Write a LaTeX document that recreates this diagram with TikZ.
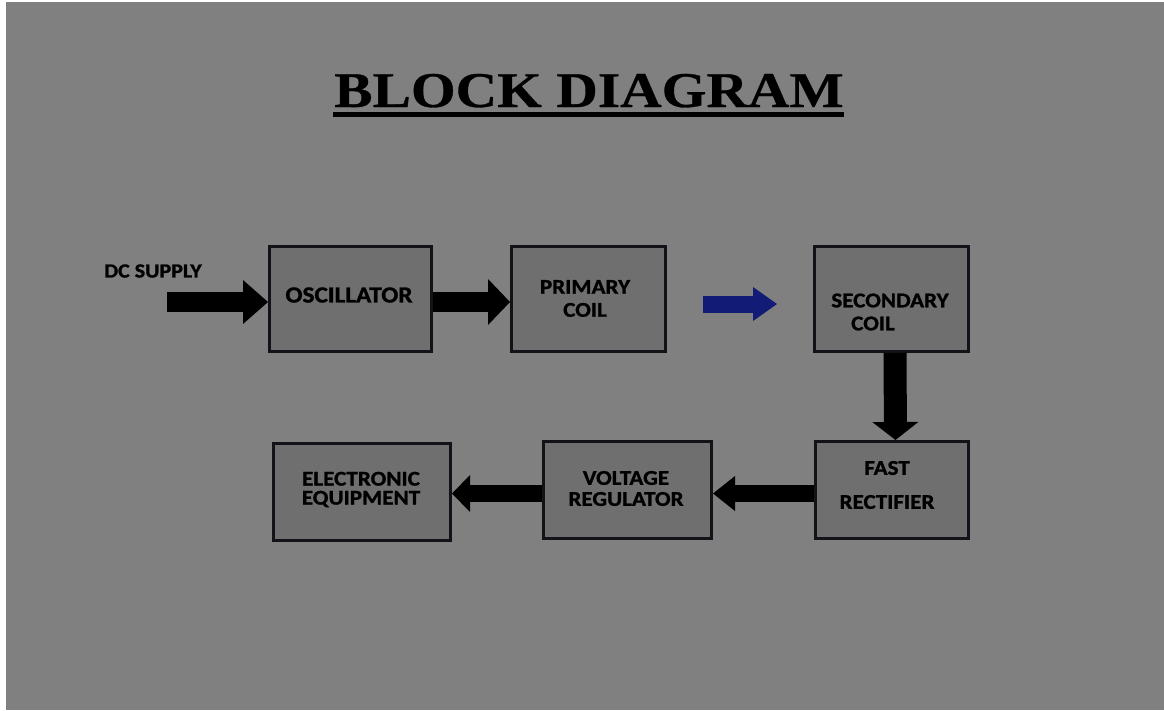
\documentclass[tikz,border=0pt]{standalone}
\usepackage{fontspec}
\setmainfont{Liberation Serif}
\newfontfamily\boxfont[FakeStretch=1.1,FakeBold=1.2]{Carlito Bold}
\newfontfamily\titlefont[FakeStretch=1.15,FakeBold=0.6]{Liberation Serif Bold}
\usetikzlibrary{arrows.meta}
\definecolor{bggray}{HTML}{808080}
\definecolor{boxgray}{HTML}{6F6F6F}
\definecolor{boxline}{HTML}{121218}
\definecolor{darkblue}{RGB}{18,28,118}
\tikzset{
  blk/.style={draw=boxline, line width=3pt, fill=boxgray, inner sep=0pt},
  lbl/.style={text=black, align=center, inner sep=0pt, font={\boxfont\fontsize{21}{23}\selectfont}},
  blockarrow/.style={draw=black, line width=#1},
}
\begin{document}
\begin{tikzpicture}[x=1pt,y=-1pt]
\fill[white] (0,0) rectangle (1164,710);
\fill[bggray] (6,2) rectangle (1164,710);
\useasboundingbox (0,0) rectangle (1164,710);

% title
\node[inner sep=0pt, anchor=base, font={\titlefont\fontsize{50}{50}\selectfont}] (title) at (589,107) {BLOCK DIAGRAM};
\draw[line width=4.5pt, black] (title.base west) ++(-1,7.5) coordinate (ul1) -- (title.base east |- ul1) coordinate (ul2);

% boxes
\node[blk, minimum width=162pt, minimum height=105pt] (osc) at (350.5,299) {};
\node[blk, minimum width=154pt, minimum height=105pt] (pri) at (588.5,299) {};
\node[blk, minimum width=154pt, minimum height=105pt] (sec) at (891.5,299) {};
\node[blk, minimum width=153pt, minimum height=97pt] (fast) at (892,490) {};
\node[blk, minimum width=168pt, minimum height=97pt] (vreg) at (627.5,490) {};
\node[blk, minimum width=177pt, minimum height=97pt] (elec) at (362,492) {};

% labels
\node[lbl, font={\boxfont\fontsize{20}{22}\selectfont}] (dclbl) at (153,271) {DC SUPPLY};
\node[lbl, font={\boxfont\fontsize{23}{25}\selectfont}] (osclbl) at (349,295) {OSCILLATOR};
\node[lbl] (prilbl) at (585,298.5) {PRIMARY\\COIL};
\node[lbl] (seclbl) at (890,312) {SECONDARY\\\hspace*{-34pt}COIL};
\node[lbl] (fastlbl) at (887,485) {FAST\\[11pt]RECTIFIER};
\node[lbl] (vreglbl) at (626,488.5) {VOLTAGE\\[-2pt]REGULATOR};
\node[lbl] (eleclbl) at (361,489.5) {ELECTRONIC\\[-4pt]EQUIPMENT};

% arrows
\coordinate (dcstart) at (167,302);
\draw[blockarrow=20pt, -{Triangle[length=25pt,width=44pt,line width=0pt]}] (dcstart) -- (dcstart -| osc.west);
\draw[blockarrow=20pt, -{Triangle[length=22pt,width=46pt,line width=0pt]}] ([yshift=-3pt]osc.east) -- ([yshift=-3pt]pri.west);
\coordinate (bstart) at (703,304);
\coordinate (bend) at (777,304);
\draw[draw=darkblue, line width=17pt, -{Triangle[length=24pt,width=34pt,line width=0pt]}] (bstart) -- (bend);
\draw[blockarrow=23pt, -{Triangle[length=18pt,width=46pt,line width=0pt]}] ([xshift=3.5pt]sec.south) -- ([xshift=3.5pt]fast.north);
\draw[blockarrow=17pt, -{Triangle[length=22pt,width=35pt,line width=0pt]}] ([yshift=-3.5pt]fast.west) -- ([yshift=-3.5pt]vreg.east);
\draw[blockarrow=17pt, -{Triangle[length=18pt,width=37pt,line width=0pt]}] ([yshift=-3.5pt]vreg.west) -- ([yshift=-3.5pt]vreg.west -| elec.east);
\end{tikzpicture}
\end{document}
